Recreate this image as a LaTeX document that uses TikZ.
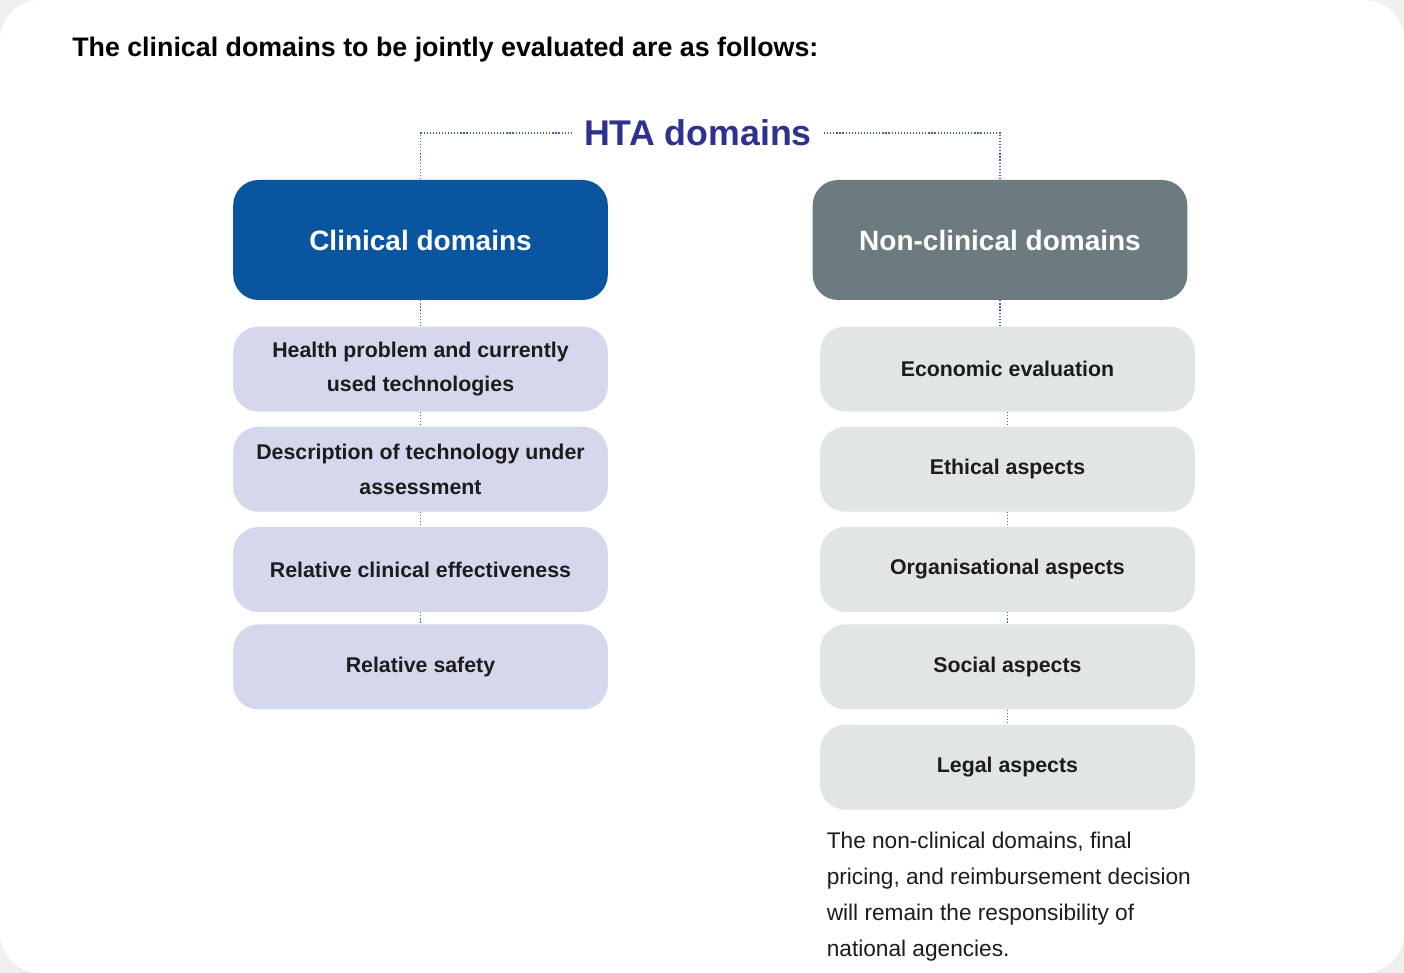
\documentclass[tikz,border=0pt]{standalone}
\usepackage{fontspec}
\setmainfont{Liberation Sans}
\usepackage{xcolor}
\usetikzlibrary{positioning}
\definecolor{clinblue}{HTML}{0A55A0}
\definecolor{nongray}{HTML}{6B7B7F}
\definecolor{clinpale}{HTML}{D5D8EC}
\definecolor{nonpale}{HTML}{E1E5E6}
\definecolor{htaink}{HTML}{2E3190}
\definecolor{dotblue}{HTML}{3F62AA}
\definecolor{cardbg}{HTML}{EFEFEF}
\definecolor{ink}{HTML}{1C1C1C}

\begin{document}
\begin{tikzpicture}[x=0.75pt,y=-0.75pt,node distance=11pt,
		head/.style={rounded corners=19pt,minimum width=281pt,minimum height=90pt,
			text=white,font=\bfseries\fontsize{21}{25}\selectfont},
		item/.style={rounded corners=19pt,minimum width=281pt,minimum height=63.75pt,
			align=center,text=ink,font=\bfseries\fontsize{16}{26}\selectfont},
		dotline/.style={dotblue,line width=1.2pt,dash pattern=on 0.9pt off 1.4pt}]
			\useasboundingbox (0,0) rectangle (1404,973);
			\fill[cardbg] (0,0) rectangle (1404,973);
			\fill[white,rounded corners=30pt] (0,0) rectangle (1404,973);

			\node[anchor=base west,inner sep=0pt,text=black,font=\bfseries\fontsize{20.1}{24}\selectfont] (title) at (72,57)
				{The clinical domains to be jointly evaluated are as follows:};
			\node[text=htaink,inner xsep=9pt,font=\bfseries\fontsize{26.8}{30}\selectfont] (hta) at (698,133) {HTA domains};

			\node[head,fill=clinblue] (clin) at (420.5,240) {Clinical domains};
			\node[head,fill=nongray] (nonclin) at (1000,240) {Non-clinical domains};

			% clinical column
			\node[item,fill=clinpale] (health) [below=19.5pt of clin] {Health problem and currently\\used technologies};
			\node[item,fill=clinpale] (descr) [below=of health] {Description of technology under\\assessment};
			\node[item,fill=clinpale] (effect) [below=of descr] {Relative clinical effectiveness};
			\node[item,fill=clinpale] (safety) [below=9pt of effect] {Relative safety};

			% non-clinical column
			\node[item,fill=nonpale] (econ) [below=19.5pt of nonclin,xshift=5.6pt] {Economic evaluation};
			\node[item,fill=nonpale] (ethic) [below=of econ] {Ethical aspects};
			\node[item,fill=nonpale] (organ) [below=of ethic] {Organisational aspects};
			\node[item,fill=nonpale] (social) [below=9pt of organ] {Social aspects};
			\node[item,fill=nonpale] (legal) [below=11pt of social] {Legal aspects};

			\node[below=16.5pt of legal.south west,anchor=north west,xshift=5pt,inner sep=0pt,align=left,
				text=ink,font=\fontsize{17}{27}\selectfont] (note)
				{The non-clinical domains, final\\pricing, and reimbursement decision\\will remain the responsibility of\\national agencies.};

			\draw[dotline] (hta) -| (clin);
			\draw[dotline] (hta) -| (nonclin);
			\draw[dotline] (clin) edge (health)
					(health) edge (descr)
					(descr) edge (effect)
					(effect) edge (safety);
			\draw[dotline] (nonclin.south) -- (nonclin.south |- econ.north)
					(econ) edge (ethic)
					(ethic) edge (organ)
					(organ) edge (social)
					(social) edge (legal);
\end{tikzpicture}
\end{document}
